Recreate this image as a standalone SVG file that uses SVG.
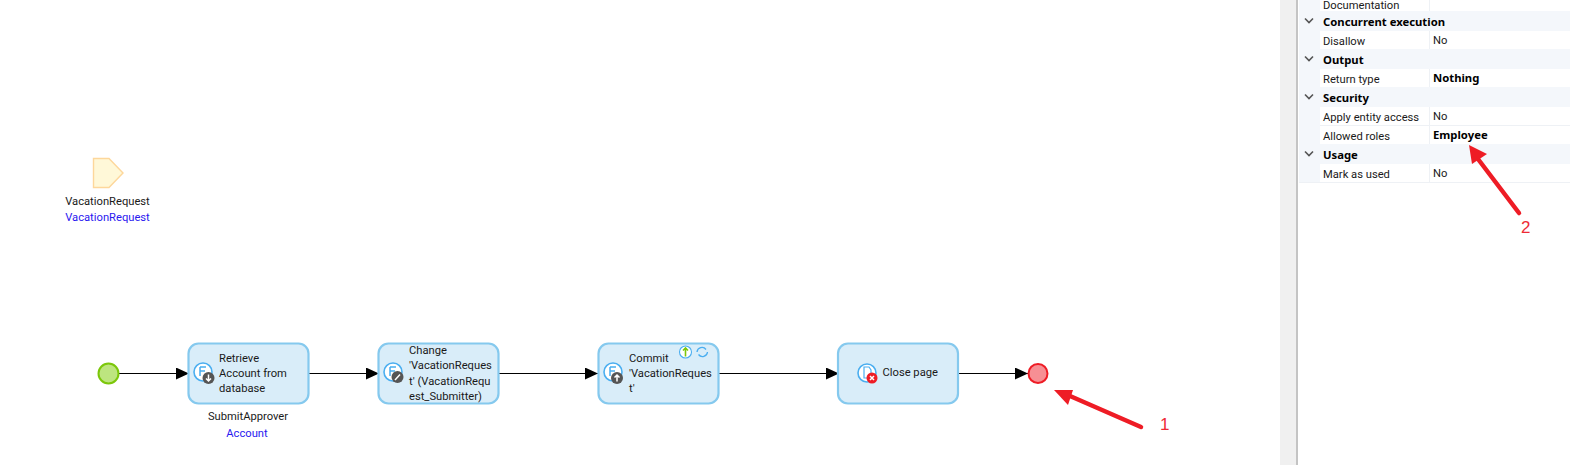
<svg xmlns="http://www.w3.org/2000/svg" width="1570" height="465" viewBox="0 0 1570 465">
<defs>
<marker id="arrow" markerUnits="userSpaceOnUse" markerWidth="14" markerHeight="12" refX="13" refY="6" orient="auto"><path d="M0 0L13 6L0 12Z" fill="#000"/></marker>
<g id="ms"><circle cx="0" cy="0" r="9" fill="#fff" stroke="#4aaef0" stroke-width="1.6"/><path d="M-3 -5H3M-3 -5V4M-3 -1H2" stroke="#4aaef0" stroke-width="1.5" fill="none"/></g>
</defs>
<style>
text{font-family:Roboto,"Noto Sans","Liberation Sans",sans-serif;font-size:11.2px;fill:#1a1a1a}
.b{font-family:"Noto Sans","Liberation Sans",sans-serif;font-size:11.3px;font-weight:700;fill:#000}
.blue{fill:#2a18f0}
.act{fill:#d9edf9;stroke:#85c9ee;stroke-width:2.2}
.red{font-family:"Liberation Sans",sans-serif;font-size:17px;fill:#ee2a35}
.hd{fill:#f4f7fb}
.sep{stroke:#eef1f5;stroke-width:1}
.chev{fill:none;stroke:#555;stroke-width:1.6}
.conn{stroke:#000;stroke-width:1.1;fill:none;marker-end:url(#arrow)}
.ann{stroke:#ee1c25;stroke-width:4.5;fill:none;stroke-linecap:round}
.badge{fill:#555}
.ico{stroke:#fff;stroke-width:1.5;fill:none}
</style>
<rect width="1570" height="465" fill="#fff"/>

<g id="panel">
<rect x="1280" y="0" width="16" height="465" fill="#f0f0f0"/>
<rect x="1296" y="0" width="2" height="465" fill="#c4c4c4"/>
<rect x="1299" y="0" width="21" height="182" class="hd"/>
<rect x="1299" y="11" width="271" height="20" class="hd"/>
<rect x="1299" y="49" width="271" height="20" class="hd"/>
<rect x="1299" y="87" width="271" height="20" class="hd"/>
<rect x="1299" y="144" width="271" height="20" class="hd"/>
<path class="sep" d="M1429.500 0V11M1429.500 31V49M1429.500 69V87M1429.500 107V144M1429.500 164V182M1320 125.500H1570M1299 182.500H1570"/>
<path class="chev" d="M1305 18.500L1309 22.500L1313 18.500M1305 56.500L1309 60.500L1313 56.500M1305 94.500L1309 98.500L1313 94.500M1305 151.500L1309 155.500L1313 151.500"/>
<text x="1323" y="8.500">Documentation</text>
<text x="1323" y="26" class="b">Concurrent execution</text>
<text x="1323" y="45">Disallow</text>
<text x="1433" y="44">No</text>
<text x="1323" y="64" class="b">Output</text>
<text x="1323" y="83">Return type</text>
<text x="1433" y="82" class="b">Nothing</text>
<text x="1323" y="102" class="b">Security</text>
<text x="1323" y="121">Apply entity access</text>
<text x="1433" y="120">No</text>
<text x="1323" y="140">Allowed roles</text>
<text x="1433" y="139" class="b">Employee</text>
<text x="1323" y="159" class="b">Usage</text>
<text x="1323" y="178">Mark as used</text>
<text x="1433" y="177">No</text>
</g>

<g id="parameter">
<path d="M93.500 158.500H109L123 173L109 187.500H93.500Z" fill="#fff8d8" stroke="#fdd79b" stroke-width="1.4"/>
<text x="107.500" y="205" text-anchor="middle">VacationRequest</text>
<text x="107.500" y="221" text-anchor="middle" class="blue">VacationRequest</text>
</g>

<g id="connectors">
<path class="conn" d="M119 373.500H189"/>
<path class="conn" d="M309 373.500H379"/>
<path class="conn" d="M499 373.500H598"/>
<path class="conn" d="M718 373.500H839"/>
<path class="conn" d="M958 373.500H1028"/>
</g>

<g id="start"><circle cx="108.500" cy="373.500" r="10" fill="#bde57f" stroke="#7cc70a" stroke-width="2"/></g>

<g id="retrieve">
<rect x="188.500" y="343.500" width="120" height="60" rx="10" class="act"/>
<use href="#ms" x="203" y="372"/>
<circle cx="208.500" cy="378" r="6" class="badge"/><path class="ico" d="M208.500 374.500V381M206 378.500L208.500 381L211 378.500"/>
<text x="219" y="362">Retrieve</text><text x="219" y="377">Account from</text><text x="219" y="392">database</text>
<text x="248" y="420" text-anchor="middle">SubmitApprover</text>
<text x="247" y="437" text-anchor="middle" class="blue">Account</text>
</g>

<g id="change">
<rect x="378.500" y="343.500" width="120" height="60" rx="10" class="act"/>
<use href="#ms" x="393" y="372"/>
<circle cx="397.500" cy="377" r="6" class="badge"/><path class="ico" d="M395 380L400 374.500"/>
<text x="409" y="354">Change</text><text x="409" y="369">'VacationReques</text><text x="409" y="385">t' (VacationRequ</text><text x="409" y="400">est_Submitter)</text>
</g>

<g id="commit">
<rect x="598.500" y="343.500" width="120" height="60" rx="10" class="act"/>
<use href="#ms" x="613" y="372"/>
<circle cx="617" cy="378" r="6" class="badge"/><path class="ico" d="M617 381.500V375M614.500 377.500L617 375L619.500 377.500"/>
<text x="629" y="362">Commit</text><text x="629" y="377">'VacationReques</text><text x="629" y="392">t'</text>
<circle cx="685.500" cy="352" r="6" fill="#fff" stroke="#4aaef0" stroke-width="1.1"/>
<path d="M685.500 356.500V348M683 350.500L685.500 348L688 350.500" fill="none" stroke="#7cc70a" stroke-width="1.6"/>
<path d="M697 352A5 5 0 0 1 706 349.500M707.500 352A5 5 0 0 1 698.500 354.500" fill="none" stroke="#4aaef0" stroke-width="1.3"/>
</g>

<g id="close">
<rect x="838" y="343.500" width="120" height="60" rx="10" class="act"/>
<circle cx="867" cy="373" r="9" fill="#fff" stroke="#4aaef0" stroke-width="1.6"/>
<path d="M864 367H869L871 370V378H864Z" fill="none" stroke="#4aaef0" stroke-width="1.2"/>
<circle cx="872" cy="378" r="5.500" fill="#ee1c25"/><path class="ico" d="M870 376L874 380M874 376L870 380"/>
<text x="882.500" y="376">Close page</text>
</g>

<g id="end"><circle cx="1038" cy="373.500" r="9.500" fill="#f78f94" stroke="#ee1c25" stroke-width="2"/></g>

<g id="annotations">
<path class="ann" d="M1141 427L1070 396"/>
<path d="M1054 390L1073 390L1068 405Z" fill="#ee1c25"/>
<text x="1160" y="430" class="red">1</text>
<path class="ann" d="M1519 213L1478 159"/>
<path d="M1469 145L1487 154L1472 164Z" fill="#ee1c25"/>
<text x="1521" y="233" class="red">2</text>
</g>
</svg>
